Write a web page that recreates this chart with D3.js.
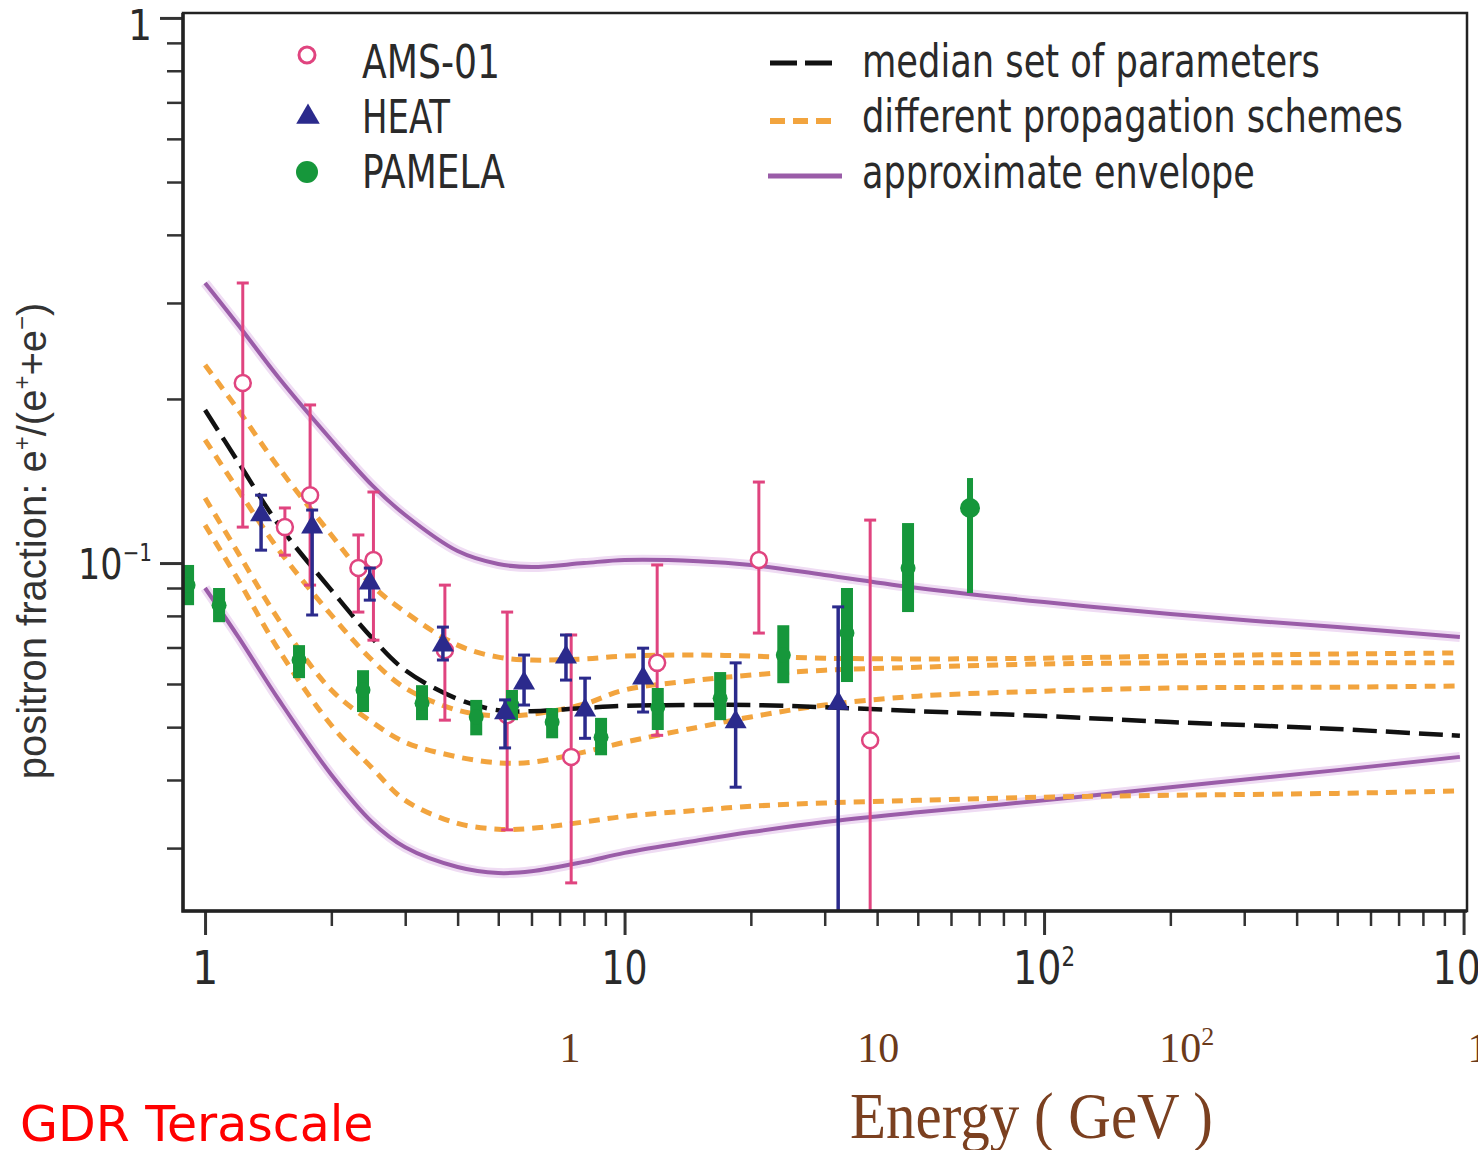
<!DOCTYPE html>
<html>
<head>
<meta charset="UTF-8">
<title>positron fraction</title>
<script src="https://cdn.jsdelivr.net/npm/d3@7"></script>
<style>
  body { margin: 0; background: #fff; }
  svg { display: block; }
  .lab { font-family: "DejaVu Sans Condensed", "DejaVu Sans", sans-serif; fill: #2a2a2a; }
  .serif { font-family: "Liberation Serif", "DejaVu Serif", serif; }
</style>
</head>
<body>
<svg id="chart" width="1478" height="1150"></svg>
<script>
var curveE = [1, 1.2, 1.5, 2, 2.5, 3, 4, 5, 6, 8, 10, 15, 20, 30, 50, 100, 200, 500, 980];
var envUpper = [0.3264, 0.2733, 0.2185, 0.1682, 0.1390, 0.1225, 0.1052, 0.0996, 0.0983, 0.1000, 0.1013, 0.1008, 0.0992, 0.0951, 0.0900, 0.0848, 0.0806, 0.0763, 0.0732];
var envLower = [0.0900, 0.0732, 0.0561, 0.0409, 0.0335, 0.0301, 0.0277, 0.0270, 0.0272, 0.0283, 0.0294, 0.0310, 0.0321, 0.0335, 0.0349, 0.0367, 0.0388, 0.0417, 0.0441];
var median   = [0.1909, 0.1532, 0.1174, 0.0892, 0.0729, 0.0636, 0.0563, 0.0537, 0.0535, 0.0542, 0.0547, 0.0549, 0.0549, 0.0544, 0.0535, 0.0524, 0.0511, 0.0496, 0.0482];
var prop1 = [0.2309, 0.1909, 0.1494, 0.1126, 0.0911, 0.0813, 0.0707, 0.0672, 0.0664, 0.0667, 0.0675, 0.0678, 0.0675, 0.0669, 0.0667, 0.0669, 0.0675, 0.0681, 0.0684];
var prop2 = [0.1682, 0.1361, 0.1056, 0.0803, 0.0664, 0.0590, 0.0537, 0.0524, 0.0528, 0.0551, 0.0585, 0.0610, 0.0623, 0.0636, 0.0644, 0.0653, 0.0656, 0.0656, 0.0656];
var prop3 = [0.1316, 0.1043, 0.0786, 0.0585, 0.0511, 0.0469, 0.0441, 0.0430, 0.0431, 0.0450, 0.0469, 0.0500, 0.0522, 0.0549, 0.0570, 0.0582, 0.0590, 0.0592, 0.0595];
var prop4 = [0.1174, 0.0931, 0.0692, 0.0504, 0.0421, 0.0367, 0.0333, 0.0325, 0.0326, 0.0335, 0.0343, 0.0352, 0.0358, 0.0363, 0.0367, 0.0372, 0.0375, 0.0378, 0.0382];

// AMS-01
var amsE  = [1.23, 1.55, 1.78, 2.32, 2.52, 3.73, 5.25, 7.46, 11.96, 20.9, 38.5];
var amsV  = [0.2139, 0.1164, 0.1332, 0.0979, 0.1013, 0.0692, 0.0526, 0.0441, 0.0656, 0.1013, 0.0473];
var amsLo = [0.1164, 0.1034, 0.0911, 0.0813, 0.0722, 0.0515, 0.0324, 0.0259, 0.0483, 0.0744, 0.0200];
var amsHi = [0.3264, 0.1262, 0.1950, 0.1126, 0.1350, 0.0911, 0.0813, 0.0738, 0.0992, 0.1408, 0.1199];

// HEAT
var heatE  = [1.36, 1.80, 2.47, 3.69, 5.19, 5.76, 7.25, 8.05, 11.07, 18.4, 32.3];
var heatV  = [0.1225, 0.1164, 0.0919, 0.0707, 0.0531, 0.0602, 0.0672, 0.0537, 0.0615, 0.0511, 0.0553];
var heatLo = [0.1056, 0.0803, 0.0855, 0.0664, 0.0458, 0.0549, 0.0610, 0.0477, 0.0533, 0.0388, 0.0200];
var heatHi = [0.1332, 0.1251, 0.0979, 0.0763, 0.0561, 0.0678, 0.0738, 0.0615, 0.0698, 0.0656, 0.0831];

// PAMELA
var pamE  = [0.911, 1.08, 1.675, 2.38, 3.29, 4.43, 5.39, 6.72, 8.79, 12.0, 16.9, 23.9, 33.9, 47.4, 66.6];
var pamV  = [0.0911, 0.0837, 0.0664, 0.0585, 0.0553, 0.0522, 0.0549, 0.0511, 0.0479, 0.0544, 0.0565, 0.0678, 0.0744, 0.0979, 0.1262];
var pamLo = [0.0837, 0.0779, 0.0615, 0.0533, 0.0515, 0.0483, 0.0515, 0.0477, 0.0444, 0.0494, 0.0515, 0.0602, 0.0605, 0.0813, 0.0881];
var pamHi = [0.0992, 0.0900, 0.0707, 0.0636, 0.0597, 0.0561, 0.0585, 0.0542, 0.0520, 0.0590, 0.0631, 0.0769, 0.0900, 0.1184, 0.1432];

var xMajor = [1, 10, 100, 1000];
var xMinor = [2, 3, 4, 5, 6, 7, 8, 9, 20, 30, 40, 50, 60, 70, 80, 90, 200, 300, 400, 500, 600, 700, 800, 900];
var yMajor = [1, 0.1];
var yMinor = [0.9, 0.8, 0.7, 0.6, 0.5, 0.4, 0.3, 0.2, 0.09, 0.08, 0.07, 0.06, 0.05, 0.04, 0.03];
var outerTicks = [1, 10, 100, 1000];
var dataNames = ["AMS-01", "HEAT", "PAMELA"];
var curveNames = ["median set of parameters", "different propagation schemes", "approximate envelope"];

var svg = d3.select("#chart");
var L = 183, T = 13, R = 1467, B = 911;

var x = d3.scaleLog().domain([0.886, 1019]).range([L, R]);
var y = d3.scaleLog().domain([0.023, 1.021]).range([B, T]);

svg.append("rect").attr("width", 1478).attr("height", 1150).attr("fill", "#fff");

svg.append("clipPath").attr("id", "plotclip")
  .append("rect").attr("x", L).attr("y", T).attr("width", R - L).attr("height", B - T);

var plot = svg.append("g").attr("clip-path", "url(#plotclip)");

var line = d3.line()
  .x(function(d){ return x(d[0]); })
  .y(function(d){ return y(d[1]); })
  .curve(d3.curveCatmullRom.alpha(0.5));

function pts(vals){
  return curveE.map(function(e, i){ return [e, vals[i]]; });
}

// squeeze a text horizontally to a width, like the condensed face of the original
function fit(t, width, ax){
  var w = t.node().getComputedTextLength();
  var s = width / w;
  t.attr("transform", "translate(" + ax + ",0) scale(" + s + ",1) translate(" + (-ax) + ",0)");
}

// envelopes (with soft halo)
[envUpper, envLower].forEach(function(v){
  plot.append("path").attr("d", line(pts(v)))
    .attr("fill", "none").attr("stroke", "#efdcf3").attr("stroke-width", 10);
  plot.append("path").attr("d", line(pts(v)))
    .attr("fill", "none").attr("stroke", "#9a5ca8").attr("stroke-width", 4);
});

// different propagation schemes
[prop1, prop2, prop3, prop4].forEach(function(v){
  plot.append("path").attr("d", line(pts(v)))
    .attr("fill", "none").attr("stroke", "#f2a43e").attr("stroke-width", 5)
    .attr("stroke-dasharray", "11,8");
});

// median
plot.append("path").attr("d", line(pts(median)))
  .attr("fill", "none").attr("stroke", "#111").attr("stroke-width", 4.5)
  .attr("stroke-dasharray", "24,9");

// AMS-01
var pink = "#e0447f";
amsE.forEach(function(e, i){
  var g = plot.append("g");
  g.append("line").attr("x1", x(e)).attr("x2", x(e))
    .attr("y1", y(amsHi[i])).attr("y2", y(amsLo[i]))
    .attr("stroke", pink).attr("stroke-width", 3);
  [amsHi[i], amsLo[i]].forEach(function(c){
    g.append("line").attr("x1", x(e) - 6).attr("x2", x(e) + 6)
      .attr("y1", y(c)).attr("y2", y(c))
      .attr("stroke", pink).attr("stroke-width", 3);
  });
  g.append("circle").attr("cx", x(e)).attr("cy", y(amsV[i])).attr("r", 8)
    .attr("fill", "#fff").attr("stroke", pink).attr("stroke-width", 2.5);
});

// PAMELA
var green = "#16973b";
pamE.forEach(function(e, i){
  var last = i === pamE.length - 1;
  var w = last ? 6 : 12;
  plot.append("rect").attr("x", x(e) - w / 2).attr("width", w)
    .attr("y", y(pamHi[i])).attr("height", y(pamLo[i]) - y(pamHi[i]))
    .attr("fill", green);
  plot.append("circle").attr("cx", x(e)).attr("cy", y(pamV[i]))
    .attr("r", last ? 10 : 7.5).attr("fill", green);
});

// HEAT
var navy = "#2b2a8c";
var tri = d3.symbol().type(d3.symbolTriangle).size(210);
heatE.forEach(function(e, i){
  var g = plot.append("g");
  g.append("line").attr("x1", x(e)).attr("x2", x(e))
    .attr("y1", y(heatHi[i])).attr("y2", y(heatLo[i]))
    .attr("stroke", navy).attr("stroke-width", 3.5);
  [heatHi[i], heatLo[i]].forEach(function(c){
    g.append("line").attr("x1", x(e) - 6).attr("x2", x(e) + 6)
      .attr("y1", y(c)).attr("y2", y(c))
      .attr("stroke", navy).attr("stroke-width", 3);
  });
  g.append("path").attr("d", tri)
    .attr("transform", "translate(" + x(e) + "," + y(heatV[i]) + ")")
    .attr("fill", navy);
});

// axes ticks
function styleAxis(g, w){
  g.select(".domain").remove();
  g.selectAll("line").attr("stroke", "#333").attr("stroke-width", w);
}
svg.append("g").attr("transform", "translate(0," + B + ")")
  .call(d3.axisBottom(x).tickValues(xMinor).tickSize(15).tickFormat(""))
  .call(styleAxis, 2.5);
svg.append("g").attr("transform", "translate(0," + B + ")")
  .call(d3.axisBottom(x).tickValues(xMajor).tickSize(24).tickFormat(""))
  .call(styleAxis, 3);
svg.append("g").attr("transform", "translate(" + L + ",0)")
  .call(d3.axisLeft(y).tickValues(yMinor).tickSize(16).tickFormat(""))
  .call(styleAxis, 2.5);
svg.append("g").attr("transform", "translate(" + L + ",0)")
  .call(d3.axisLeft(y).tickValues(yMajor).tickSize(23).tickFormat(""))
  .call(styleAxis, 3);

// frame: heavier on the axis sides
svg.append("rect").attr("x", L).attr("y", T).attr("width", R - L).attr("height", B - T)
  .attr("fill", "none").attr("stroke", "#222").attr("stroke-width", 2.5);
svg.append("path").attr("d", "M" + L + "," + T + "V" + B + "H" + R)
  .attr("fill", "none").attr("stroke", "#222").attr("stroke-width", 3.5);

// tick labels: powers of ten
function powLabel(sel, v, supSize, supDy){
  var p = Math.round(Math.log10(v));
  if (p === 0) { sel.text("1"); return; }
  if (p === 1) { sel.text("10"); return; }
  sel.append("tspan").text("10");
  sel.append("tspan").attr("font-size", supSize).attr("dy", supDy)
    .text(p < 0 ? "\u2212" + (-p) : p);
}
xMajor.forEach(function(v){
  var t = svg.append("text").attr("class", "lab")
    .attr("x", x(v)).attr("y", 984).attr("text-anchor", "middle")
    .attr("font-size", 46).attr("fill", "#333");
  powLabel(t, v, 26, -18);
  if (v === 10) fit(t, 46, x(v));
  if (v > 10) fit(t, 62, x(v));
});
yMajor.forEach(function(v){
  var t = svg.append("text").attr("class", "lab")
    .attr("x", 152).attr("y", v === 1 ? 40 : 579).attr("text-anchor", "end")
    .attr("font-size", 42).attr("fill", "#333");
  powLabel(t, v, 24, -18);
  if (v !== 1) fit(t, 74, 152);
});

// y axis title
var yt = svg.append("text")
  .attr("transform", "translate(46,541) rotate(-90)")
  .attr("text-anchor", "middle")
  .attr("font-family", "Liberation Sans, Arial, sans-serif")
  .attr("font-size", 40).attr("fill", "#333");
yt.append("tspan").text("positron fraction: e");
yt.append("tspan").attr("font-size", 24).attr("dy", -16).text("+");
yt.append("tspan").attr("dy", 16).text("/(e");
yt.append("tspan").attr("font-size", 24).attr("dy", -16).text("+");
yt.append("tspan").attr("dy", 16).text("+e");
yt.append("tspan").attr("font-size", 24).attr("dy", -16).text("\u2212");
yt.append("tspan").attr("dy", 16).text(")");

// legend: data sets
var legLeft = svg.append("g");
legLeft.append("circle").attr("cx", 307).attr("cy", 55).attr("r", 8)
  .attr("fill", "#fff").attr("stroke", pink).attr("stroke-width", 3);
legLeft.append("path").attr("d", d3.symbol().type(d3.symbolTriangle).size(240))
  .attr("transform", "translate(308,117)").attr("fill", navy);
legLeft.append("circle").attr("cx", 307).attr("cy", 172).attr("r", 11).attr("fill", green);
var leftW = [138, 88, 143];
dataNames.forEach(function(name, i){
  var t = legLeft.append("text").attr("class", "lab").attr("x", 362).attr("y", 78 + i * 55)
    .attr("font-size", 46).text(name);
  fit(t, leftW[i], 362);
});

// legend: model curves
var legRight = svg.append("g");
legRight.append("line").attr("x1", 770).attr("x2", 835).attr("y1", 63).attr("y2", 63)
  .attr("stroke", "#111").attr("stroke-width", 5).attr("stroke-dasharray", "27,8");
legRight.append("line").attr("x1", 770).attr("x2", 832).attr("y1", 121).attr("y2", 121)
  .attr("stroke", "#f2a43e").attr("stroke-width", 6).attr("stroke-dasharray", "15,8");
legRight.append("line").attr("x1", 768).attr("x2", 842).attr("y1", 176).attr("y2", 176)
  .attr("stroke", "#9a5ca8").attr("stroke-width", 5);
var rightW = [458, 541, 393];
curveNames.forEach(function(name, i){
  var t = legRight.append("text").attr("class", "lab").attr("x", 862).attr("y", 77 + i * 55.5)
    .attr("font-size", 46).text(name);
  fit(t, rightW[i], 862);
});

// outer energy axis labels
var xo = d3.scaleLog().domain([1, 1000]).range([570, 1495]);
outerTicks.forEach(function(v){
  var t = svg.append("text").attr("class", "serif")
    .attr("x", xo(v)).attr("y", 1062).attr("text-anchor", "middle")
    .attr("font-size", 42).attr("fill", "#6b3a1a");
  powLabel(t, v, 26, -17);
});
var et = svg.append("text").attr("class", "serif")
  .attr("x", 850).attr("y", 1138)
  .attr("font-size", 66).attr("fill", "#7b4020")
  .text("Energy ( GeV )");
fit(et, 363, 850);

svg.append("text").attr("x", 20).attr("y", 1141)
  .attr("font-family", "DejaVu Sans, sans-serif").attr("font-size", 49)
  .attr("fill", "#ff0000").text("GDR Terascale");
</script>
</body>
</html>
